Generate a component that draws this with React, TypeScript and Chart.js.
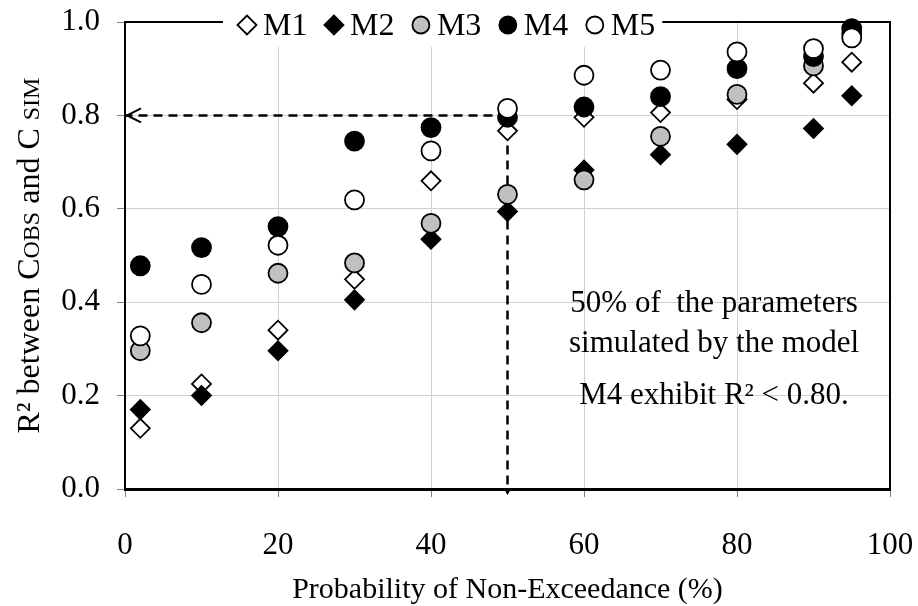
import React, { useEffect, useRef } from 'react';
import { Chart, registerables } from 'chart.js';

Chart.register(...registerables);

// ---- data ----
const probabilities = [2, 10, 20, 30, 40, 50, 60, 70, 80, 90, 95];
const seriesNames = ['M1', 'M2', 'M3', 'M4', 'M5'];
const m1Values = [0.13, 0.225, 0.34, 0.449, 0.66, 0.767, 0.796, 0.806, 0.834, 0.869, 0.914];
const m2Values = [0.17, 0.2, 0.296, 0.405, 0.535, 0.594, 0.683, 0.716, 0.738, 0.772, 0.842];
const m3Values = [0.296, 0.356, 0.462, 0.484, 0.569, 0.631, 0.662, 0.755, 0.845, 0.906, 0.975];
const m4Values = [0.478, 0.517, 0.562, 0.745, 0.774, 0.796, 0.818, 0.84, 0.9, 0.926, 0.986];
const m5Values = [0.328, 0.438, 0.522, 0.619, 0.724, 0.815, 0.886, 0.897, 0.936, 0.943, 0.966];
const xTicks = [0, 20, 40, 60, 80, 100];
const yTicks = [0, 0.2, 0.4, 0.6, 0.8, 1.0];
const thresholdX = 50;
const thresholdY = 0.8;
const xTitle = 'Probability of Non-Exceedance (%)';
const yTitleParts: [string, boolean][] = [
  ['R\u00B2 between C', false],
  ['OBS', true],
  [' and C ', false],
  ['SIM', true],
];
const noteLines = ['50% of  the parameters', 'simulated by the model', 'M4 exhibit R\u00B2 < 0.80.'];

const SERIF = "'Liberation Serif', 'Times New Roman', serif";

type MarkerStyle = { shape: 'rectRot' | 'circle'; fill: string; radius: number; legendRadius: number };
const markerStyles: MarkerStyle[] = [
  { shape: 'rectRot', fill: '#ffffff', radius: 9.5, legendRadius: 9.5 },
  { shape: 'rectRot', fill: '#000000', radius: 9.5, legendRadius: 9.5 },
  { shape: 'circle', fill: '#c0c0c0', radius: 9.5, legendRadius: 8.5 },
  { shape: 'circle', fill: '#000000', radius: 9.5, legendRadius: 8.5 },
  { shape: 'circle', fill: '#ffffff', radius: 9.5, legendRadius: 8.5 },
];

function drawMarker(ctx: CanvasRenderingContext2D, s: MarkerStyle, x: number, y: number, r: number) {
  ctx.beginPath();
  if (s.shape === 'circle') {
    ctx.arc(x, y, r, 0, Math.PI * 2);
  } else {
    ctx.moveTo(x - r, y);
    ctx.lineTo(x, y - r);
    ctx.lineTo(x + r, y);
    ctx.lineTo(x, y + r);
    ctx.closePath();
  }
  ctx.fillStyle = s.fill;
  ctx.fill();
  ctx.lineWidth = 1.8;
  ctx.strokeStyle = '#000';
  ctx.stroke();
}

export default function App() {
  const ref = useRef<HTMLCanvasElement>(null);

  useEffect(() => {
    const canvas = ref.current;
    if (!canvas) return;
    const seriesValues = [m1Values, m2Values, m3Values, m4Values, m5Values];

    const datasets: any[] = seriesNames.map((name, i) => ({
      label: name,
      data: probabilities.map((p, j) => ({ x: p, y: seriesValues[i][j] })),
      pointStyle: markerStyles[i].shape,
      pointRadius: markerStyles[i].radius,
      pointHoverRadius: markerStyles[i].radius,
      pointBackgroundColor: markerStyles[i].fill,
      pointBorderColor: '#000',
      pointBorderWidth: 1.8,
      showLine: false,
      order: 5 - i,
      clip: false,
    }));
    const dashStyle = {
      showLine: true,
      borderColor: '#000',
      borderWidth: 2.5,
      borderDash: [9, 6],
      pointRadius: 0,
      order: 10,
      clip: false,
    };
    datasets.push({
      label: 'threshold-h',
      data: [
        { x: thresholdX, y: thresholdY },
        { x: xTicks[0], y: thresholdY },
      ],
      ...dashStyle,
    });
    datasets.push({
      label: 'threshold-v',
      data: [
        { x: thresholdX, y: thresholdY },
        { x: thresholdX, y: yTicks[0] },
      ],
      ...dashStyle,
    });

    const framePlugin = {
      id: 'frame',
      beforeDatasetsDraw(chart: any) {
        const { ctx, chartArea: a } = chart;
        ctx.save();
        ctx.strokeStyle = '#000';
        ctx.lineWidth = 2;
        ctx.beginPath();
        ctx.moveTo(a.left, a.top);
        ctx.lineTo(a.right, a.top);
        ctx.lineTo(a.right, a.bottom);
        ctx.stroke();
        ctx.restore();
      },
      afterDatasetsDraw(chart: any) {
        const { ctx } = chart;
        const xs = chart.scales.x;
        const ys = chart.scales.y;
        const tipX = xs.getPixelForValue(xTicks[0]) + 2;
        const tipY = ys.getPixelForValue(thresholdY);
        ctx.save();
        ctx.strokeStyle = '#000';
        ctx.lineWidth = 2;
        ctx.beginPath();
        ctx.moveTo(tipX + 14, tipY - 7);
        ctx.lineTo(tipX, tipY);
        ctx.lineTo(tipX + 14, tipY + 7);
        ctx.stroke();
        const bx = xs.getPixelForValue(thresholdX);
        const by = ys.getPixelForValue(yTicks[0]);
        ctx.fillStyle = '#000';
        ctx.beginPath();
        ctx.moveTo(bx - 3.5, by);
        ctx.lineTo(bx + 3.5, by);
        ctx.lineTo(bx, by + 6);
        ctx.closePath();
        ctx.fill();
        ctx.restore();
      },
      afterDraw(chart: any) {
        const { ctx, chartArea: a } = chart;
        const xs = chart.scales.x;
        const ys = chart.scales.y;
        ctx.save();

        // legend
        ctx.font = `32px ${SERIF}`;
        const legendLeft = a.left + 98;
        const widths = seriesNames.map((n) => ctx.measureText(n).width);
        let w = 24;
        widths.forEach((tw, i) => {
          w += 16 + tw + (i < widths.length - 1 ? 26.5 : 7);
        });
        ctx.fillStyle = '#fff';
        ctx.fillRect(legendLeft, 0, w, 47);
        let cx = legendLeft + 24;
        ctx.textBaseline = 'alphabetic';
        ctx.textAlign = 'left';
        seriesNames.forEach((n, i) => {
          drawMarker(ctx, markerStyles[i], cx, 25, markerStyles[i].legendRadius);
          ctx.fillStyle = '#000';
          ctx.fillText(n, cx + 16, 35);
          cx += 16 + widths[i] + 26.5;
        });

        // y-axis title with small-caps style subscripts
        const big = `32px ${SERIF}`;
        const small = `24px ${SERIF}`;
        let tw = 0;
        yTitleParts.forEach(([t, s]) => {
          ctx.font = s ? small : big;
          tw += ctx.measureText(t).width;
        });
        ctx.translate(39, (a.top + a.bottom) / 2);
        ctx.rotate(-Math.PI / 2);
        let tx = -tw / 2;
        ctx.fillStyle = '#000';
        yTitleParts.forEach(([t, s]) => {
          ctx.font = s ? small : big;
          ctx.fillText(t, tx, 0);
          tx += ctx.measureText(t).width;
        });
        ctx.setTransform(1, 0, 0, 1, 0, 0);

        // note
        ctx.font = `31px ${SERIF}`;
        ctx.textAlign = 'center';
        ctx.textBaseline = 'alphabetic';
        const noteX = xs.getPixelForValue(77);
        const noteYs = [0.379, 0.293, 0.182];
        noteLines.forEach((line, i) => {
          ctx.fillText(line, noteX, ys.getPixelForValue(noteYs[i]));
        });
        ctx.restore();
      },
    };

    const chart = new Chart(canvas, {
      type: 'scatter',
      data: { datasets },
      options: {
        responsive: false,
        animation: false,
        events: [],
        layout: { padding: { top: 22, right: 28, bottom: 0, left: 0 } },
        scales: {
          x: {
            type: 'linear',
            min: xTicks[0],
            max: xTicks[xTicks.length - 1],
            afterBuildTicks: (s: any) => {
              s.ticks = xTicks.map((v) => ({ value: v }));
            },
            afterFit: (s: any) => {
              s.height = 117;
              s.paddingLeft = 0;
              s.paddingRight = 0;
            },
            ticks: {
              color: '#000',
              font: { family: SERIF, size: 31 },
              padding: 30,
              maxRotation: 0,
              callback: (v: any) => String(v),
            },
            grid: { color: '#d0d0d0', tickColor: '#808080', tickLength: 8, lineWidth: 1 },
            border: { color: '#000', width: 3 },
            title: {
              display: true,
              text: xTitle,
              color: '#000',
              font: { family: SERIF, size: 30, lineHeight: 1 },
              padding: { top: 0, bottom: 1 },
            },
          },
          y: {
            type: 'linear',
            min: yTicks[0],
            max: yTicks[yTicks.length - 1],
            afterBuildTicks: (s: any) => {
              s.ticks = yTicks.map((v) => ({ value: v }));
            },
            afterFit: (s: any) => {
              s.width = 125;
              s.paddingTop = 0;
              s.paddingBottom = 0;
            },
            ticks: {
              color: '#000',
              font: { family: SERIF, size: 31 },
              padding: 17,
              callback: (v: any) => Number(v).toFixed(1),
            },
            grid: { color: '#d0d0d0', tickColor: '#808080', tickLength: 8, lineWidth: 1 },
            border: { color: '#000', width: 2 },
          },
        },
        plugins: {
          legend: { display: false },
          tooltip: { enabled: false },
        },
      } as any,
      plugins: [framePlugin],
    });
    return () => chart.destroy();
  }, []);

  return (
    <div style={{ position: 'absolute', left: 0, top: 0, width: 918, height: 606, background: '#fff' }}>
      <canvas ref={ref} width={918} height={606} style={{ width: 918, height: 606, display: 'block' }} />
    </div>
  );
}
